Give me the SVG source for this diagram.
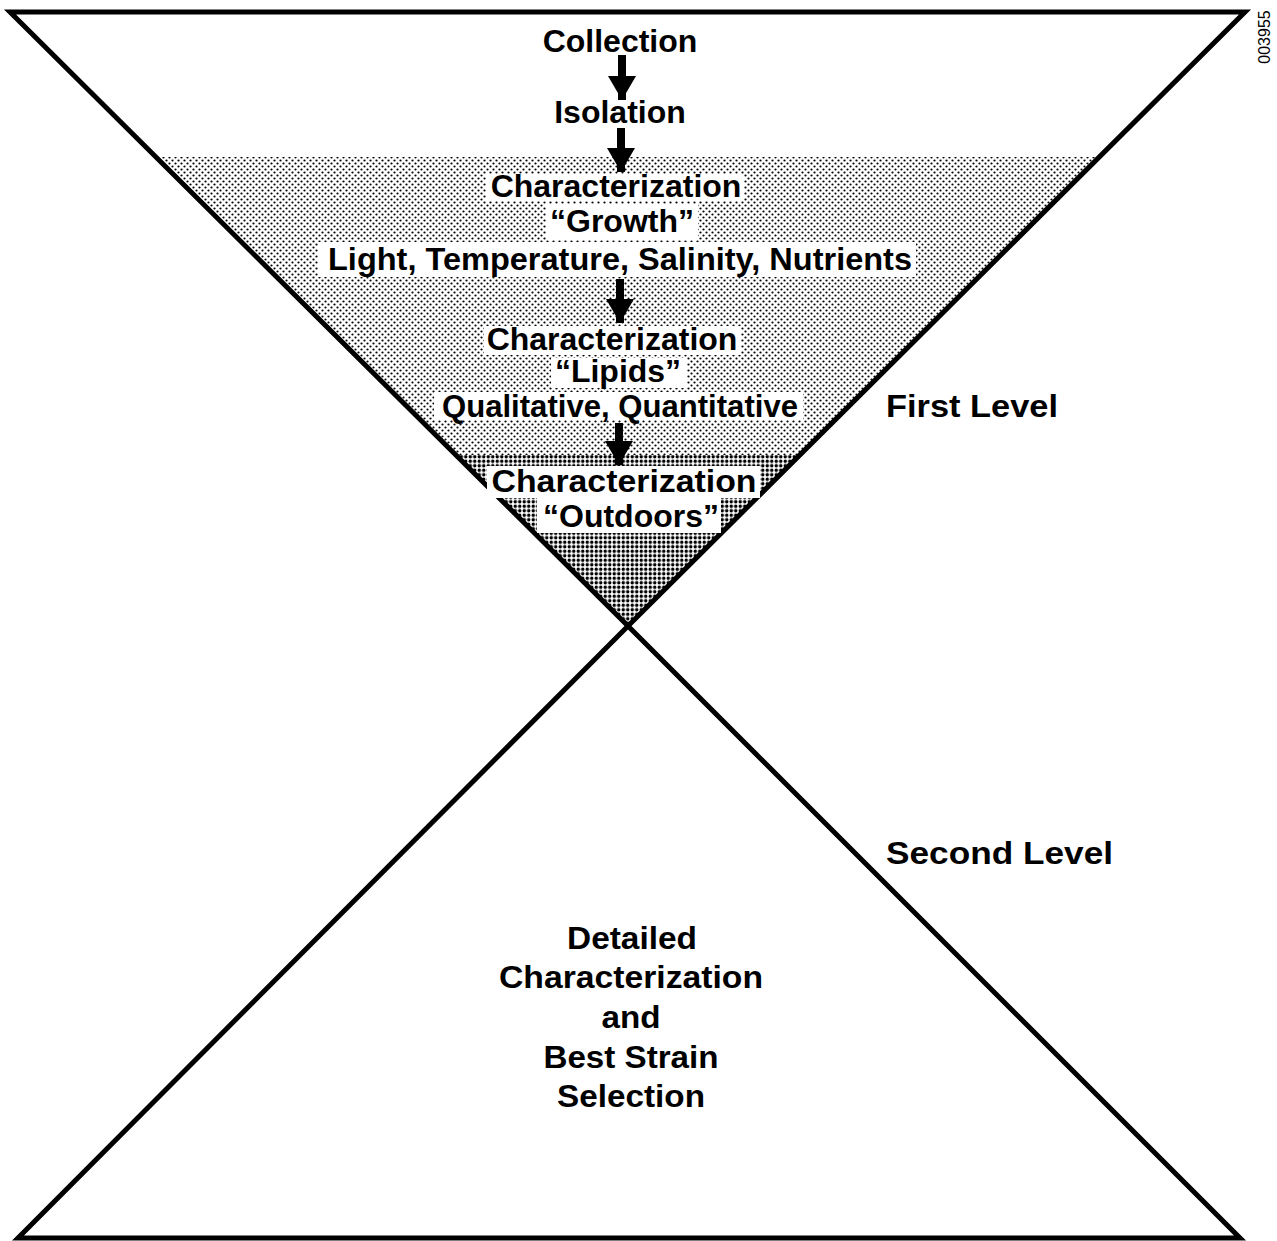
<svg xmlns="http://www.w3.org/2000/svg" width="1277" height="1241" viewBox="0 0 1277 1241">
<style>
.t{font-family:"Liberation Sans",Arial,sans-serif;font-weight:bold;font-size:32px;fill:#000;text-anchor:middle}
.lbl{font-family:"Liberation Sans",Arial,sans-serif;font-weight:bold;font-size:32px;fill:#000}
.bx{fill:#fff}
.edge{stroke:#000;stroke-width:5;fill:none;stroke-linejoin:miter}
.arr{stroke:#000;stroke-width:8;fill:none;marker-end:url(#ah)}
</style>
<defs>
<pattern id="light" width="6" height="6" patternUnits="userSpaceOnUse">
<rect width="6" height="6" fill="#fff"/>
<circle cx="1.5" cy="1.5" r="1.1" fill="#000"/>
<circle cx="4.5" cy="4.5" r="1.1" fill="#000"/>
</pattern>
<pattern id="dark" width="4.5" height="4.5" patternUnits="userSpaceOnUse">
<rect width="4.5" height="4.5" fill="#fff"/>
<circle cx="2.25" cy="2.25" r="1.7" fill="#000"/>
</pattern>
<marker id="ah" markerUnits="userSpaceOnUse" markerWidth="30" markerHeight="28" refX="24" refY="14" orient="auto">
<path d="M0,0 L24,14 L0,28 Z" fill="#000"/>
</marker>
</defs>
<rect width="1277" height="1241" fill="#fff"/>
<g id="shading">
<polygon points="156,157 1099,157 800,455 456,455" fill="url(#light)"/>
<polygon points="456,455 800,455 628,626" fill="url(#dark)"/>
</g>
<g id="frame">
<polygon class="edge" points="10,12 1245,12 628,626"/>
<polygon class="edge" points="628,626 1240,1238 18,1238"/>
</g>
<g id="connectors">
<line class="arr" x1="622" y1="55" x2="622" y2="100"/>
<line class="arr" x1="621" y1="128" x2="621" y2="172"/>
<line class="arr" x1="620" y1="279" x2="620" y2="323"/>
<line class="arr" x1="619" y1="423" x2="619" y2="465"/>
</g>
<g id="collection"><text class="t" x="620" y="52">Collection</text></g>
<g id="isolation"><text class="t" x="620" y="123">Isolation</text></g>
<g id="char-growth">
<rect class="bx" x="486" y="174" width="258" height="27"/>
<rect class="bx" x="546" y="204" width="152" height="36"/>
<rect class="bx" x="318" y="242" width="598" height="35"/>
<text class="t" x="616" y="197">Characterization</text>
<text class="t" x="622" y="232">“Growth”</text>
<text class="t" x="620" y="270" textLength="584" lengthAdjust="spacingAndGlyphs">Light, Temperature, Salinity, Nutrients</text>
</g>
<g id="char-lipids">
<rect class="bx" x="484" y="326" width="257" height="29"/>
<rect class="bx" x="551" y="358" width="136" height="30"/>
<rect class="bx" x="434" y="392" width="369" height="28"/>
<text class="t" x="612" y="350">Characterization</text>
<text class="t" x="618" y="382">“Lipids”</text>
<text class="t" x="620" y="417" textLength="356" lengthAdjust="spacingAndGlyphs">Qualitative, Quantitative</text>
</g>
<g id="char-outdoors">
<rect class="bx" x="487" y="466" width="273" height="32"/>
<rect class="bx" x="537" y="498" width="184" height="35"/>
<text class="t" x="624" y="492" textLength="265" lengthAdjust="spacingAndGlyphs">Characterization</text>
<text class="t" x="631" y="527">“Outdoors”</text>
</g>
<g id="first-level"><text class="lbl" x="886" y="417" textLength="172" lengthAdjust="spacingAndGlyphs">First Level</text></g>
<g id="second-level"><text class="lbl" x="886" y="864" textLength="227" lengthAdjust="spacingAndGlyphs">Second Level</text></g>
<g id="selection">
<text class="t" x="632" y="949" textLength="130" lengthAdjust="spacingAndGlyphs">Detailed</text>
<text class="t" x="631" y="988" textLength="264" lengthAdjust="spacingAndGlyphs">Characterization</text>
<text class="t" x="631" y="1028" textLength="59" lengthAdjust="spacingAndGlyphs">and</text>
<text class="t" x="631" y="1068" textLength="175" lengthAdjust="spacingAndGlyphs">Best Strain</text>
<text class="t" x="631" y="1107" textLength="148" lengthAdjust="spacingAndGlyphs">Selection</text>
</g>
<text x="1270" y="37" transform="rotate(-90 1270 37)" style="font-family:'Liberation Sans',Arial,sans-serif;font-size:16px;text-anchor:middle;fill:#000">003955</text>
</svg>
